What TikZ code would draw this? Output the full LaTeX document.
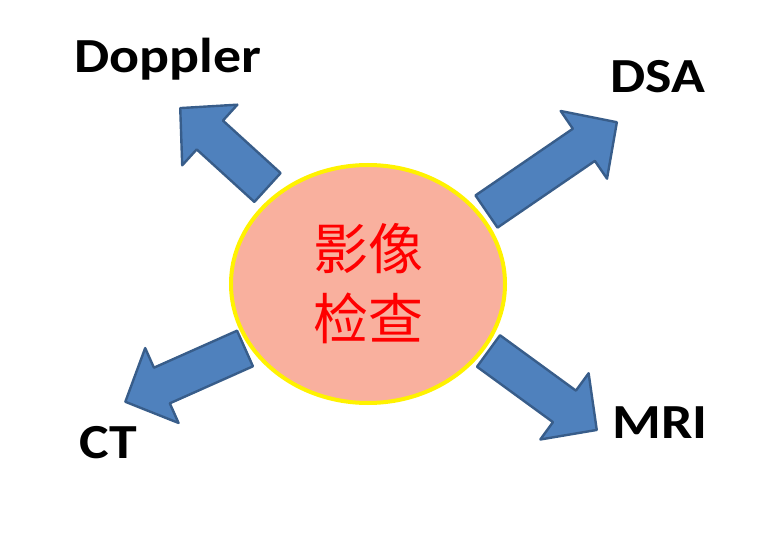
\documentclass[tikz,border=0pt]{standalone}
\usepackage{fontspec}
\usepackage{xcolor}
\usetikzlibrary{shapes.geometric}
\newfontfamily\labelfont[FakeStretch=1.14]{Carlito}
\newfontfamily\cjk{Noto Sans CJK SC}
\definecolor{salmon}{RGB}{249,176,158}
\definecolor{arrowblue}{RGB}{79,129,189}
\definecolor{arrowline}{RGB}{56,93,138}

% tail point, angle, length
\newcommand{\blockarrow}[3]{%
  \draw[arrowshape, shift={#1}, rotate=#2] (0,-19.5) -- (#3-40,-19.5) -- (#3-40,-41) -- (#3,0)
    -- (#3-40,41) -- (#3-40,19.5) -- (0,19.5) -- cycle;}

\begin{document}
\begin{tikzpicture}[x=1pt,y=1pt,
  arrowshape/.style={fill=arrowblue, draw=arrowline, line width=2.4pt, line join=round},
  modality/.style={font=\labelfont\bfseries\fontsize{49}{58}\selectfont, anchor=base, inner sep=0pt}]
   \useasboundingbox (0,0) rectangle (761,539);
   \draw (368,255) node[ellipse, fill=salmon, draw=yellow, line width=4pt, minimum width=274pt,
     minimum height=238pt, inner sep=0pt, align=center,
     font=\cjk\fontsize{55}{70}\selectfont, text=red] (exam) {影像\\检查};

   \blockarrow{(267.5,351.5)}{137.7}{118}
   \blockarrow{(486.5,327.5)}{34.4}{158}
   \blockarrow{(245,190.5)}{204}{131}
   \blockarrow{(488.5,188)}{-36.1}{134}

   \draw (167.5,466) node[modality] (doppler) {Doppler};
   \draw (657.5,446) node[modality] (dsa) {DSA};
   \draw (108,81) node[modality] (ct) {CT};
   \draw (660,101) node[modality] (mri) {MRI};
\end{tikzpicture}
\end{document}
